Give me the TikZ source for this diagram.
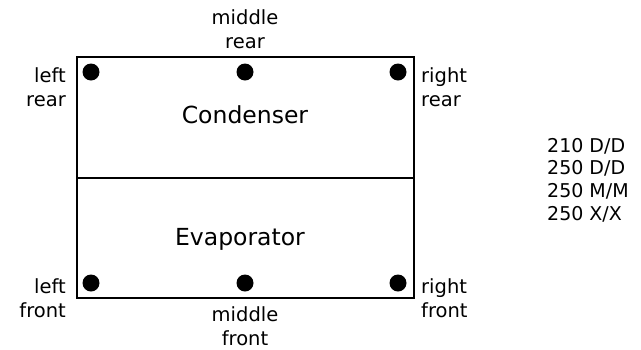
\documentclass[tikz,border=0pt]{standalone}
\usepackage{fontspec}
\setmainfont{DejaVu Sans}
\tikzset{
  lbl/.style={inner sep=0pt, font=\fontsize{19.5}{24}\selectfont},
  big/.style={inner sep=0pt, font=\fontsize{23.5}{26}\selectfont},
  dot/.style={circle, fill=black, inner sep=0pt, minimum size=17pt},
  box/.style={draw=black, line width=2pt}
}
\begin{document}
\begin{tikzpicture}[x=1pt,y=-1pt]
\useasboundingbox (0,0) rectangle (641,349);
\draw[box] (77,57) rectangle (414,298);
\coordinate (ml) at (77,178);
\coordinate (mr) at (414,178);
\draw[box] (ml) -- (mr);
\node[dot] (lr) at (91,72) {};
\node[dot] (mrr) at (245,72) {};
\node[dot] (rr) at (398,72) {};
\node[dot] (lf) at (91,283) {};
\node[dot] (mf) at (245,283) {};
\node[dot] (rf) at (398,283) {};
\node[lbl, align=center] (tmr) at (245,29) {middle\\rear};
\node[lbl, align=right, anchor=east] (tlr) at (66,87) {left\\rear};
\node[lbl, align=left, anchor=west] (trr) at (421,87) {right\\rear};
\node[lbl, align=right, anchor=east] (tlf) at (66,298) {left\\front};
\node[lbl, align=left, anchor=west] (trf) at (421,298) {right\\front};
\node[lbl, align=center] (tmf) at (245,326) {middle\\front};
\node[big] (cond) at (245,115) {Condenser};
\node[big] (evap) at (240,239) {Evaporator};
\node[lbl, align=left, anchor=west, font=\fontsize{19}{22.7}\selectfont] (tab) at (547,180) {210 D/D\\250 D/D\\250 M/M\\250 X/X};
\end{tikzpicture}
\end{document}
